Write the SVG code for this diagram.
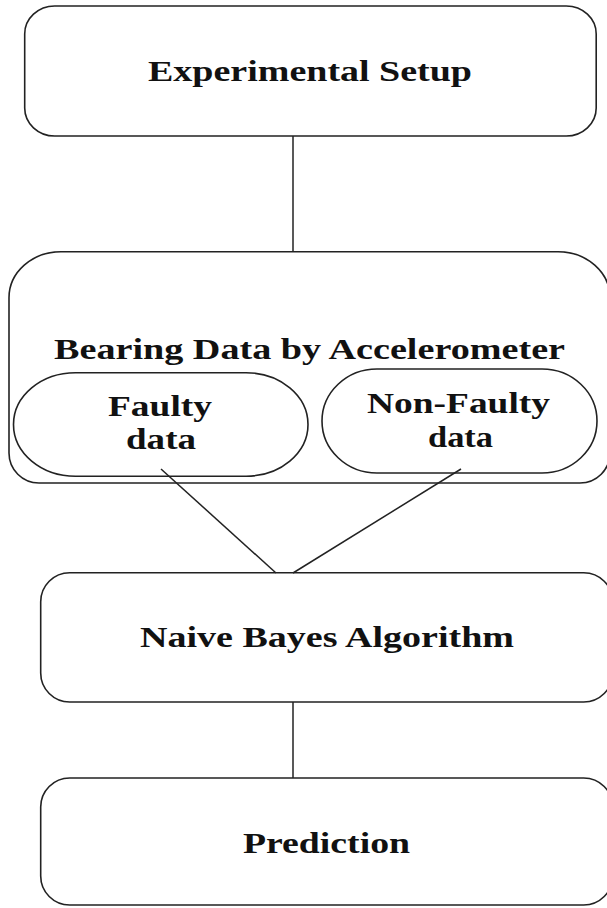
<svg xmlns="http://www.w3.org/2000/svg" width="607" height="908" viewBox="0 0 607 908">
<style>
.box{fill:#fff;stroke:#222;stroke-width:1.6}
.conn{stroke:#222;stroke-width:1.5;fill:none}
.t{font-family:"Liberation Serif","Times New Roman",serif;font-weight:bold;font-size:30px;fill:#111;text-anchor:middle}
</style>
<rect width="607" height="908" fill="#fff"/>
<g id="experimental-setup">
<rect class="box" x="24.7" y="6" width="571.5" height="130" rx="30" ry="28"/>
<text class="t" x="310" y="81" textLength="324" lengthAdjust="spacingAndGlyphs">Experimental Setup</text>
</g>
<g id="bearing-data">
<path class="box" d="M61,251.7 H558 A52,46 0 0 1 610,297.7 V453 A30,30 0 0 1 580,483 H39 A30,30 0 0 1 9,453 V297.7 A52,46 0 0 1 61,251.7 Z"/>
<text class="t" x="309.5" y="359" textLength="511" lengthAdjust="spacingAndGlyphs">Bearing Data by Accelerometer</text>
</g>
<g id="faulty-data">
<rect class="box" x="13.5" y="372.7" width="294.5" height="103.5" rx="62" ry="51.7"/>
<text class="t" x="160" y="416" textLength="104" lengthAdjust="spacingAndGlyphs">Faulty</text>
<text class="t" x="161" y="449" textLength="70" lengthAdjust="spacingAndGlyphs">data</text>
</g>
<g id="non-faulty-data">
<rect class="box" x="322" y="369" width="275" height="104" rx="55" ry="52"/>
<text class="t" x="458.5" y="413" textLength="183" lengthAdjust="spacingAndGlyphs">Non-Faulty</text>
<text class="t" x="460.5" y="447" textLength="65" lengthAdjust="spacingAndGlyphs">data</text>
</g>
<g id="naive-bayes">
<rect class="box" x="40.7" y="572.7" width="572" height="129.3" rx="29" ry="29"/>
<text class="t" x="327" y="647" textLength="374" lengthAdjust="spacingAndGlyphs">Naive Bayes Algorithm</text>
</g>
<g id="prediction">
<rect class="box" x="40.7" y="778" width="572" height="127" rx="29" ry="29"/>
<text class="t" x="326.5" y="853" textLength="167" lengthAdjust="spacingAndGlyphs">Prediction</text>
</g>
<g id="connectors">
<line class="conn" x1="293" y1="136" x2="293" y2="252"/>
<line class="conn" x1="161" y1="469" x2="276" y2="573"/>
<line class="conn" x1="461" y1="469" x2="293" y2="573"/>
<line class="conn" x1="293" y1="702" x2="293" y2="778"/>
</g>
</svg>
